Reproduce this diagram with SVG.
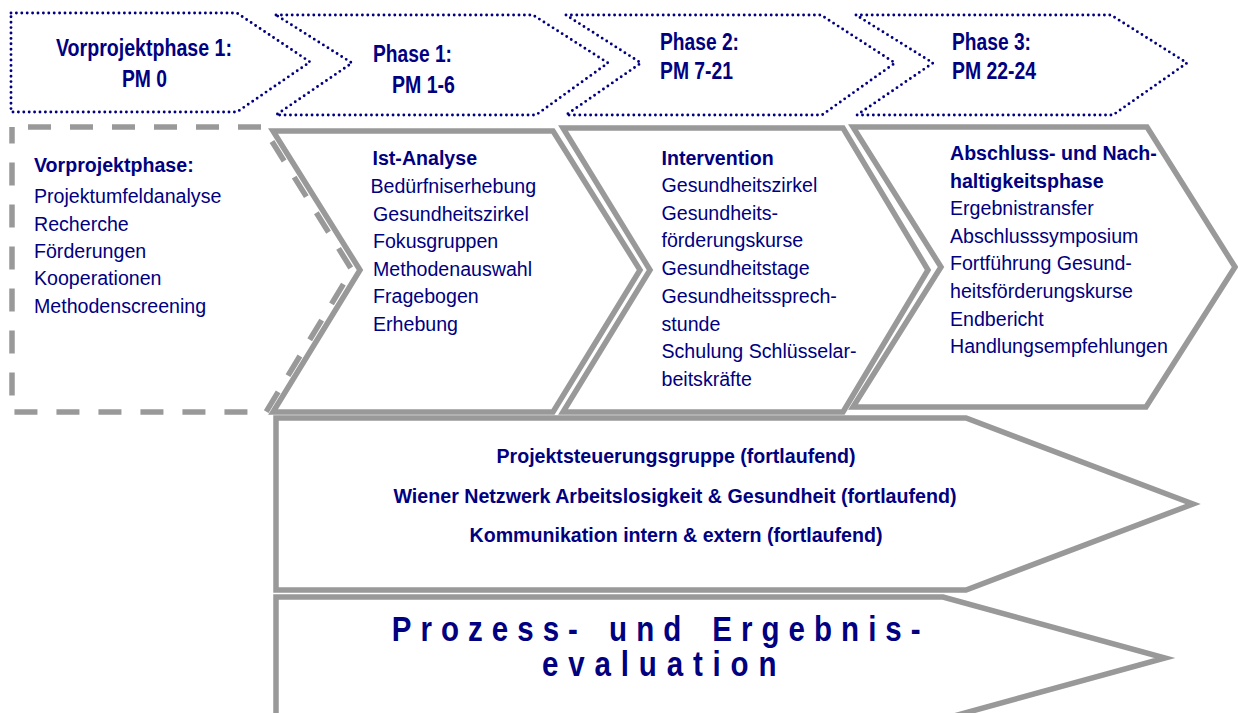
<svg xmlns="http://www.w3.org/2000/svg" width="1238" height="713" viewBox="0 0 1238 713">
  <style>
    .dot{fill:none;stroke:#000080;stroke-width:2.9;stroke-linecap:round;stroke-linejoin:round;stroke-dasharray:0 5.4}
    .frame{fill:none;stroke:#999;stroke-width:5.5;stroke-linejoin:miter;stroke-miterlimit:10}
    .dash{fill:none;stroke:#999;stroke-width:5.5;stroke-dasharray:23 19;stroke-dashoffset:26}
    text{font-family:"Liberation Sans",Arial,Helvetica,sans-serif;fill:#000080}
    .lbl{font-size:23px;font-weight:bold}
    .hd{font-size:19.6px;font-weight:bold}
    .it{font-size:19.6px}
    .run{font-size:21px;font-weight:bold;text-anchor:middle}
    .big{font-size:36px;font-weight:bold}
  </style>

  <!-- Timeline header: dotted phase chevrons -->
  <g id="phase-pre-header">
    <polygon class="dot" points="11,13 237,13 310,62 237,112 11,112"/>
    <text class="lbl" x="56" y="56" textLength="176" lengthAdjust="spacingAndGlyphs">Vorprojektphase 1:</text>
    <text class="lbl" x="122" y="87" textLength="45" lengthAdjust="spacingAndGlyphs">PM 0</text>
  </g>
  <g id="phase-1-header">
    <polygon class="dot" points="276,15 533,15 608,63 536,115 276,115 352,63"/>
    <text class="lbl" x="373" y="62" textLength="79" lengthAdjust="spacingAndGlyphs">Phase 1:</text>
    <text class="lbl" x="392" y="93" textLength="63" lengthAdjust="spacingAndGlyphs">PM 1-6</text>
  </g>
  <g id="phase-2-header">
    <polygon class="dot" points="566,15 821,15 895,63 822,115 566,115 641,63"/>
    <text class="lbl" x="660" y="50" textLength="79" lengthAdjust="spacingAndGlyphs">Phase 2:</text>
    <text class="lbl" x="660" y="79" textLength="73" lengthAdjust="spacingAndGlyphs">PM 7-21</text>
  </g>
  <g id="phase-3-header">
    <polygon class="dot" points="856,15 1111,15 1187,63 1113,115 857,115 933,63"/>
    <text class="lbl" x="952" y="50" textLength="79" lengthAdjust="spacingAndGlyphs">Phase 3:</text>
    <text class="lbl" x="952" y="79" textLength="84" lengthAdjust="spacingAndGlyphs">PM 22-24</text>
  </g>

  <!-- Work packages per phase -->
  <g id="vorprojektphase">
    <path class="dash" d="M12,127 L263,127 L352,270 L266,412 L12,412 Z"/>
    <text class="hd" x="34" y="172">Vorprojektphase:</text>
    <text class="it">
      <tspan x="34" y="203.3">Projektumfeldanalyse</tspan>
      <tspan x="34" y="230.6">Recherche</tspan>
      <tspan x="34" y="257.9">Förderungen</tspan>
      <tspan x="34" y="285.2">Kooperationen</tspan>
      <tspan x="34" y="312.5">Methodenscreening</tspan>
    </text>
  </g>
  <g id="ist-analyse">
    <polygon class="frame" points="273,131 553,131 640,270 553,412 273,412 360,270"/>
    <text class="hd" x="372.5" y="165">Ist-Analyse</text>
    <text class="it">
      <tspan x="370.5" y="193">Bedürfniserhebung</tspan>
      <tspan x="373" y="220.6">Gesundheitszirkel</tspan>
      <tspan x="373" y="248.2">Fokusgruppen</tspan>
      <tspan x="373" y="275.8">Methodenauswahl</tspan>
      <tspan x="373" y="303.4">Fragebogen</tspan>
      <tspan x="373" y="331">Erhebung</tspan>
    </text>
  </g>
  <g id="intervention">
    <polygon class="frame" points="563,128 843,128 928,270 843,412 563,412 650,270"/>
    <text class="hd" x="661.5" y="165">Intervention</text>
    <text class="it">
      <tspan x="661.5" y="192">Gesundheitszirkel</tspan>
      <tspan x="661.5" y="219.7">Gesundheits-</tspan>
      <tspan x="661.5" y="247.4">förderungskurse</tspan>
      <tspan x="661.5" y="275.1">Gesundheitstage</tspan>
      <tspan x="661.5" y="302.8">Gesundheitssprech-</tspan>
      <tspan x="661.5" y="330.5">stunde</tspan>
      <tspan x="661.5" y="358.2">Schulung Schlüsselar-</tspan>
      <tspan x="661.5" y="385.9">beitskräfte</tspan>
    </text>
  </g>
  <g id="abschluss">
    <polygon class="frame" points="853,127 1147,127 1235,267 1146,407 853,407 941,267"/>
    <text class="hd">
      <tspan x="950" y="160">Abschluss- und Nach-</tspan>
      <tspan x="950" y="187.6">haltigkeitsphase</tspan>
    </text>
    <text class="it">
      <tspan x="950" y="215.2">Ergebnistransfer</tspan>
      <tspan x="950" y="242.8">Abschlusssymposium</tspan>
      <tspan x="950" y="270.4">Fortführung Gesund-</tspan>
      <tspan x="950" y="298">heitsförderungskurse</tspan>
      <tspan x="950" y="325.6">Endbericht</tspan>
      <tspan x="950" y="353.2">Handlungsempfehlungen</tspan>
    </text>
  </g>

  <!-- Continuous tasks across phases 1-3 -->
  <g id="fortlaufend">
    <polygon class="frame" points="276,418 966,418 1193,504 966,590 276,590"/>
    <text class="run" x="676" y="462.7" textLength="359" lengthAdjust="spacingAndGlyphs">Projektsteuerungsgruppe (fortlaufend)</text>
    <text class="run" x="675" y="503" textLength="563" lengthAdjust="spacingAndGlyphs">Wiener Netzwerk Arbeitslosigkeit &amp; Gesundheit (fortlaufend)</text>
    <text class="run" x="676" y="541.5" textLength="413" lengthAdjust="spacingAndGlyphs">Kommunikation intern &amp; extern (fortlaufend)</text>
  </g>

  <g id="evaluation">
    <polygon class="frame" points="276,597 943,597 1165,658 943,719 276,719"/>
    <!-- two-line, letter-spaced title in a narrow bold face -->
    <text class="big" transform="scale(0.82,1)">
      <tspan x="477.8" y="641" letter-spacing="11" word-spacing="6">Prozess- und Ergebnis-</tspan>
      <tspan x="661" y="676" letter-spacing="12">evaluation</tspan>
    </text>
  </g>
</svg>
